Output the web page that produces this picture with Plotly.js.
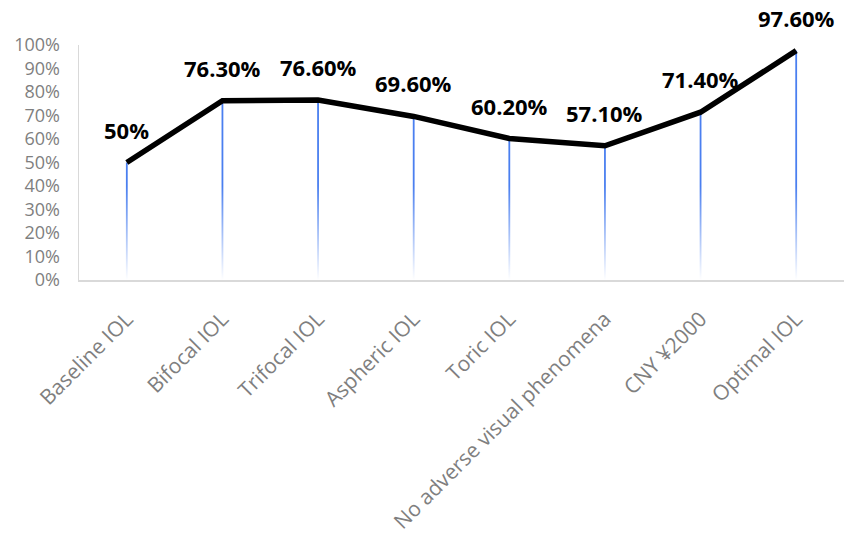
<!DOCTYPE html>
<html>
<head>
<meta charset="utf-8">
<script src="https://cdn.plot.ly/plotly-3.0.1.min.js"></script>
<style>html,body{margin:0;padding:0;background:#fff;}#chart{width:851px;height:545px;}</style>
</head>
<body>
<div id="chart"></div>
<script>
var categories = ["Baseline IOL", "Bifocal IOL", "Trifocal IOL", "Aspheric IOL", "Toric IOL", "No adverse visual phenomena", "CNY ¥2000", "Optimal IOL"];
var values = [50, 76.3, 76.6, 69.6, 60.2, 57.1, 71.4, 97.6];
var valueLabels = ["50%", "76.30%", "76.60%", "69.60%", "60.20%", "57.10%", "71.40%", "97.60%"];
var yTickVals = [0, 10, 20, 30, 40, 50, 60, 70, 80, 90, 100];
var yTickText = ["0%", "10%", "20%", "30%", "40%", "50%", "60%", "70%", "80%", "90%", "100%"];

var idx = categories.map(function (c, i) { return i; });
var FONT = "'Open Sans', 'Noto Sans', sans-serif";

var dropLines = {
  x: idx, y: values, type: 'scatter', mode: 'none',
  error_y: { type: 'data', symmetric: false, array: values.map(function () { return 0; }), arrayminus: values, color: '#4a7ff0', thickness: 1.8, width: 0 },
  hoverinfo: 'skip', showlegend: false
};
var fadeTop = 40;
var fade = {
  x: [-0.5, categories.length - 0.5], y: [fadeTop, fadeTop], type: 'scatter', mode: 'lines',
  line: { width: 0, color: 'rgba(255,255,255,0)' }, fill: 'tozeroy',
  fillgradient: { type: 'vertical', colorscale: [[0, 'rgba(255,255,255,1)'], [1, 'rgba(255,255,255,0)']] },
  hoverinfo: 'skip', showlegend: false
};
var line = {
  x: idx, y: values, type: 'scatter', mode: 'lines',
  line: { color: '#000000', width: 5.5 }, hoverinfo: 'skip', showlegend: false
};

var annotations = idx.map(function (i) {
  return { x: i, y: values[i], xref: 'x', yref: 'y', text: valueLabels[i], showarrow: false, yshift: 33,
    font: { family: FONT, size: 22, color: '#000000', weight: 'bold' } };
});

var layout = {
  width: 851, height: 545,
  margin: { l: 79, r: 7, t: 45, b: 265 },
  paper_bgcolor: '#ffffff', plot_bgcolor: '#ffffff',
  xaxis: {
    range: [-0.5, categories.length - 0.5], tickmode: 'array', tickvals: idx, ticktext: categories,
    tickangle: -45, showgrid: false, zeroline: false, showline: true, linecolor: '#d9d9d9', linewidth: 1.5,
    ticks: '', ticklabelstandoff: 17, tickfont: { family: FONT, size: 21, color: '#7f7f7f' }, fixedrange: true
  },
  yaxis: {
    range: [0, 100], tickmode: 'array', tickvals: yTickVals, ticktext: yTickText,
    showgrid: false, zeroline: false, showline: true, linecolor: '#d9d9d9', linewidth: 1.5,
    ticks: '', ticklabelstandoff: 14, tickfont: { family: FONT, size: 18, color: '#7f7f7f' }, fixedrange: true
  },
  annotations: annotations,
  showlegend: false
};

Plotly.newPlot('chart', [dropLines, fade, line], layout, { displayModeBar: false, staticPlot: true });
</script>
</body>
</html>
